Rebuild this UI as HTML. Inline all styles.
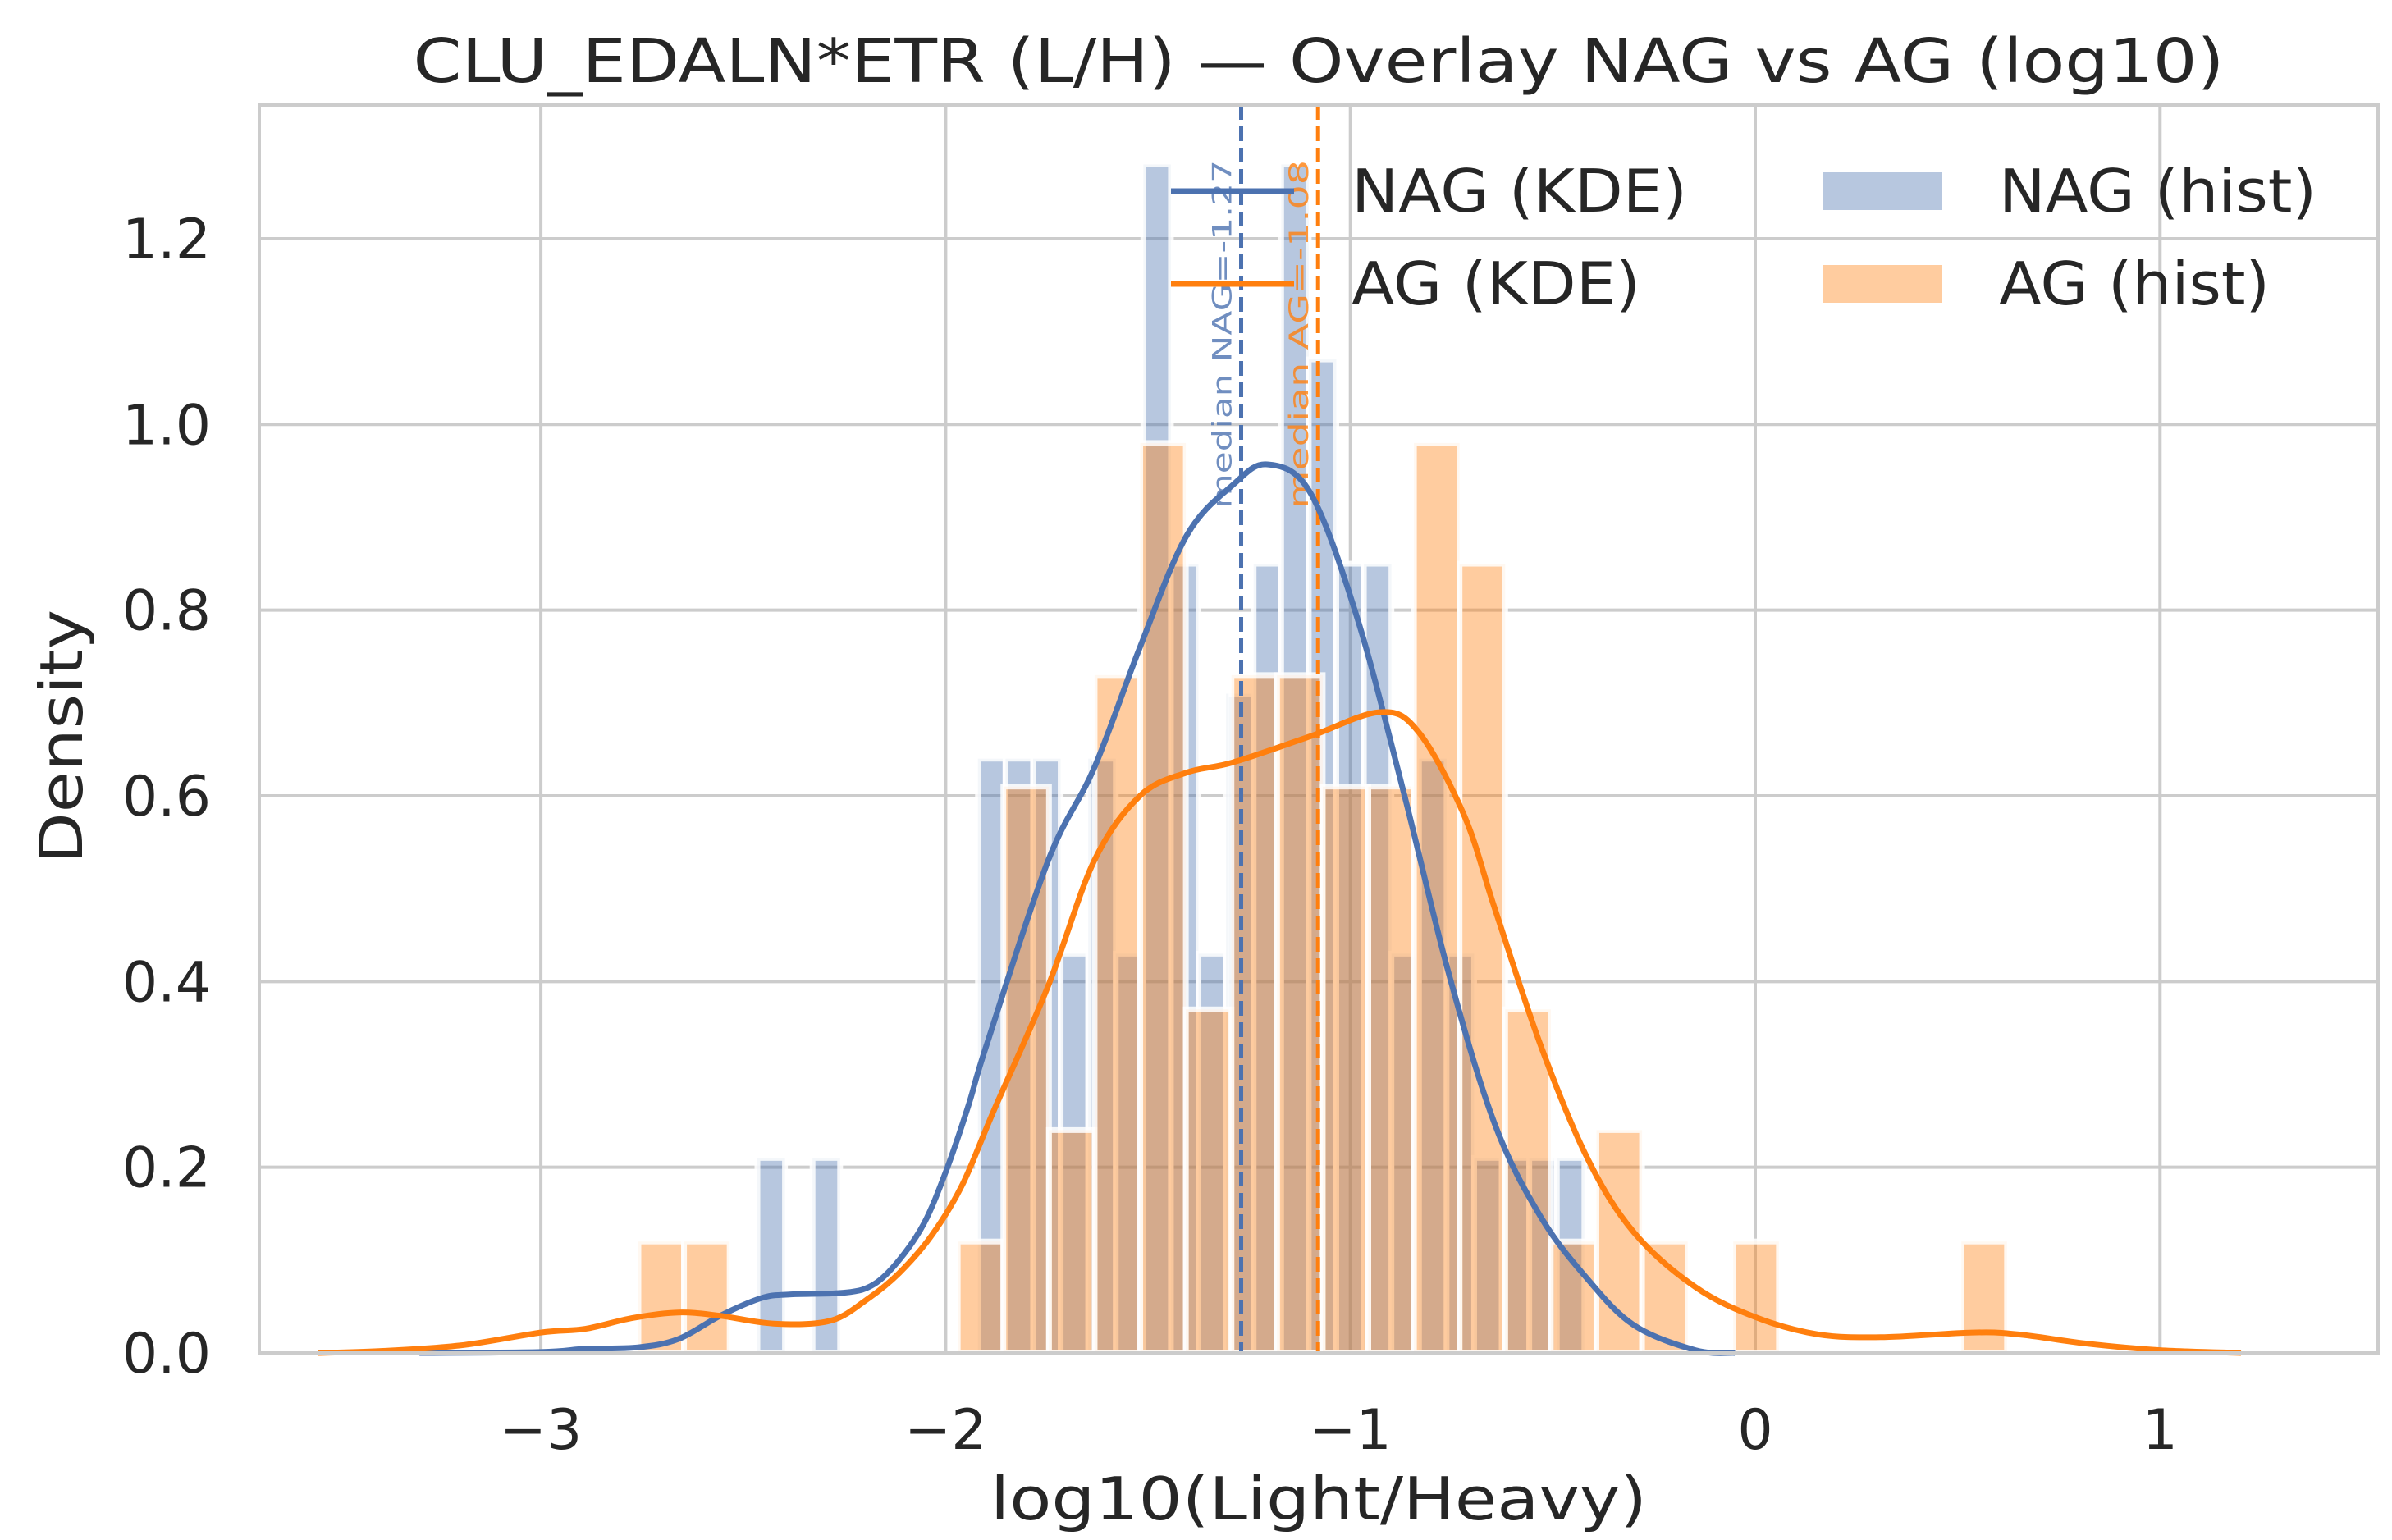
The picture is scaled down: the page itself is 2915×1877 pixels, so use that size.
<!DOCTYPE html>
<html><head><meta charset="utf-8"><style>
html,body{margin:0;padding:0;background:#fff;}
svg{display:block;font-family:"DejaVu Sans","Liberation Sans",sans-serif;}
</style></head><body>
<svg id="chart" xmlns="http://www.w3.org/2000/svg" width="2915" height="1877" viewBox="0 0 2915 1877">
<rect x="0" y="0" width="2915" height="1877" fill="#fff"/>
<g id="grid"></g>
<g id="bars-nag"></g>
<g id="bars-ag"></g>
<g id="medians"></g>
<g id="kde"></g>
<rect x="316" y="128" width="2582" height="1521" fill="none" stroke="#cccccc" stroke-width="4"/>
<g id="ticks" fill="#262626" font-size="68"></g>
<text x="1607" y="100" text-anchor="middle" font-size="74" fill="#262626" textLength="2207" lengthAdjust="spacingAndGlyphs">CLU_EDALN*ETR (L/H) — Overlay NAG vs AG (log10)</text>
<text x="1607" y="1852" text-anchor="middle" font-size="72" fill="#262626" textLength="800" lengthAdjust="spacingAndGlyphs">log10(Light/Heavy)</text>
<text transform="translate(100,898) rotate(-90)" text-anchor="middle" font-size="72" fill="#262626" textLength="310" lengthAdjust="spacingAndGlyphs">Density</text>
<g id="legend">
  <g>
    <line x1="1427" y1="233" x2="1577" y2="233" stroke="#4c72b0" stroke-width="7"/>
    <text x="1647" y="258" font-size="72" fill="#262626" textLength="409" lengthAdjust="spacingAndGlyphs">NAG (KDE)</text>
  </g>
  <g>
    <line x1="1427" y1="346" x2="1577" y2="346" stroke="#ff7f0e" stroke-width="7"/>
    <text x="1647" y="371" font-size="72" fill="#262626" textLength="352" lengthAdjust="spacingAndGlyphs">AG (KDE)</text>
  </g>
  <g>
    <rect x="2222" y="210" width="145" height="46" fill="#4c72b0" fill-opacity="0.4"/>
    <text x="2436" y="258" font-size="72" fill="#262626" textLength="387" lengthAdjust="spacingAndGlyphs">NAG (hist)</text>
  </g>
  <g>
    <rect x="2222" y="323" width="145" height="46" fill="#ff7f0e" fill-opacity="0.4"/>
    <text x="2436" y="371" font-size="72" fill="#262626" textLength="330" lengthAdjust="spacingAndGlyphs">AG (hist)</text>
  </g>
</g>
</svg>
<script>
// ---- data ----
const xTicks = [-3, -2, -1, 0, 1];
const xTickLabels = ["\u22123", "\u22122", "\u22121", "0", "1"];
const yTicks = [0, 0.2, 0.4, 0.6, 0.8, 1.0, 1.2];
const yTickLabels = ["0.0", "0.2", "0.4", "0.6", "0.8", "1.0", "1.2"];
const nagBinStart = -2.465;
const nagBinWidth = 0.0681;
const nagDensity = [0.21,0,0.21,0,0,0,0,0,0.64,0.64,0.64,0.43,0.64,0.43,1.28,0.85,0.43,0.71,0.85,1.28,1.07,0.85,0.85,0.43,0.64,0.43,0.21,0.21,0.21,0.21];
const agBinStart = -2.759;
const agBinWidth = 0.1127;
const agDensity = [0.12,0.12,0,0,0,0,0,0.12,0.61,0.24,0.73,0.98,0.37,0.73,0.73,0.61,0.61,0.98,0.85,0.37,0.12,0.24,0.12,0,0.12,0,0,0,0,0.12];
const nagKdeX = [-3.3,-3.0,-2.89,-2.76,-2.66,-2.557,-2.456,-2.386,-2.247,-2.177,-2.115,-2.053,-1.998,-1.944,-1.90,-1.747,-1.633,-1.52,-1.405,-1.29,-1.206,-1.10,-0.985,-0.872,-0.758,-0.643,-0.529,-0.415,-0.30,-0.148,-0.05];
const nagKdeY = [0,0.001,0.0045,0.006,0.015,0.04,0.059,0.063,0.065,0.074,0.10,0.14,0.197,0.266,0.33,0.53,0.63,0.76,0.88,0.935,0.957,0.927,0.794,0.61,0.41,0.246,0.146,0.08,0.03,0.003,0];
const agKdeX = [-3.55,-3.4,-3.2,-3.0,-2.89,-2.774,-2.66,-2.557,-2.425,-2.285,-2.19,-2.115,-2.037,-1.96,-1.882,-1.747,-1.633,-1.52,-1.405,-1.29,-1.10,-0.929,-0.834,-0.72,-0.643,-0.529,-0.415,-0.30,-0.148,0.004,0.156,0.31,0.537,0.65,0.82,1.0,1.2];
const agKdeY = [0,0.002,0.008,0.022,0.026,0.0376,0.0436,0.04,0.0316,0.0346,0.059,0.086,0.125,0.18,0.26,0.395,0.53,0.60,0.625,0.636,0.664,0.69,0.67,0.58,0.478,0.33,0.21,0.13,0.071,0.038,0.02,0.017,0.022,0.02,0.01,0.003,0];
const medianNames = ["NAG", "AG"];
const medianValues = [-1.27, -1.08];

// ---- scales ----
const X0 = 316, X1 = 2898, Y0 = 128, Y1 = 1649;
function xp(v){ return 2139 + 493.3 * v; }
function yp(v){ return 1649 - 1131.7 * v; }
const NS = "http://www.w3.org/2000/svg";
function mk(tag, attrs, parent){ const e = document.createElementNS(NS, tag); for (const k in attrs) e.setAttribute(k, attrs[k]); parent.appendChild(e); return e; }

// grid
const grid = document.getElementById('grid');
xTicks.forEach(t => {
  const l = mk('line', {x1: xp(t), x2: xp(t), y1: Y0, y2: Y1, stroke: '#cccccc', 'stroke-width': 4}, grid);
  
  
});
yTicks.forEach(t => {
  const l = mk('line', {x1: X0, x2: X1, y1: yp(t), y2: yp(t), stroke: '#cccccc', 'stroke-width': 4}, grid);
  
  
});

// ticks
const ticks = document.getElementById('ticks');
xTicks.forEach((t, i) => {
  const e = mk('text', {x: xp(t), y: 1766, 'text-anchor': 'middle'}, ticks);
  e.textContent = xTickLabels[i];
  
  
});
yTicks.forEach((t, i) => {
  const e = mk('text', {x: 257, y: yp(t) + 24, 'text-anchor': 'end'}, ticks);
  e.textContent = yTickLabels[i];
  
  
});

// histograms
function drawBars(gid, start, w, dens, color, name){
  const g = document.getElementById(gid);
  dens.forEach((d, i) => {
    if (d <= 0) return;
    const a = xp(start + i * w), b = xp(start + (i + 1) * w);
    const r = mk('rect', {x: a, y: yp(d), width: b - a, height: yp(0) - yp(d), fill: color, 'fill-opacity': 0.4, stroke: '#ffffff', 'stroke-width': 7, 'stroke-opacity': 0.85}, g);
    
    
  });
}
drawBars('bars-nag', nagBinStart, nagBinWidth, nagDensity, '#4c72b0', 'nag-hist-bar');
drawBars('bars-ag', agBinStart, agBinWidth, agDensity, '#ff7f0e', 'ag-hist-bar');

// medians
const med = document.getElementById('medians');
const medColors = ['#4c72b0', '#ff7f0e'];
medianValues.forEach((m, i) => {
  const l = mk('line', {x1: xp(m), x2: xp(m), y1: Y0, y2: Y1, stroke: medColors[i], 'stroke-width': 5, 'stroke-dasharray': '18,8'}, med);
  
  
  const t = mk('text', {transform: 'translate(' + (xp(m) - 12) + ',195) rotate(-90)', 'text-anchor': 'end', 'font-size': 32, fill: medColors[i], 'fill-opacity': 0.8, textLength: 425, lengthAdjust: 'spacingAndGlyphs'}, med);
  t.textContent = 'median ' + medianNames[i] + '=' + m.toFixed(2);
  
  
});

// KDE curves (Catmull-Rom smoothing)
function pathFrom(xs, ys){
  const P = xs.map((x, i) => [xp(x), yp(ys[i])]);
  let d = 'M' + P[0][0].toFixed(1) + ',' + P[0][1].toFixed(1);
  for (let i = 0; i < P.length - 1; i++){
    const p0 = P[Math.max(0, i - 1)], p1 = P[i], p2 = P[i + 1], p3 = P[Math.min(P.length - 1, i + 2)];
    const c1 = [p1[0] + (p2[0] - p0[0]) / 6, p1[1] + (p2[1] - p0[1]) / 6];
    const c2 = [p2[0] - (p3[0] - p1[0]) / 6, p2[1] - (p3[1] - p1[1]) / 6];
    d += ' C' + c1[0].toFixed(1) + ',' + c1[1].toFixed(1) + ' ' + c2[0].toFixed(1) + ',' + c2[1].toFixed(1) + ' ' + p2[0].toFixed(1) + ',' + p2[1].toFixed(1);
  }
  return d;
}
const kde = document.getElementById('kde');
const pn = mk('path', {d: pathFrom(nagKdeX, nagKdeY), fill: 'none', stroke: '#4c72b0', 'stroke-width': 7, 'stroke-linejoin': 'round'}, kde);


const pa = mk('path', {d: pathFrom(agKdeX, agKdeY), fill: 'none', stroke: '#ff7f0e', 'stroke-width': 7, 'stroke-linejoin': 'round'}, kde);


</script>
</body></html>
